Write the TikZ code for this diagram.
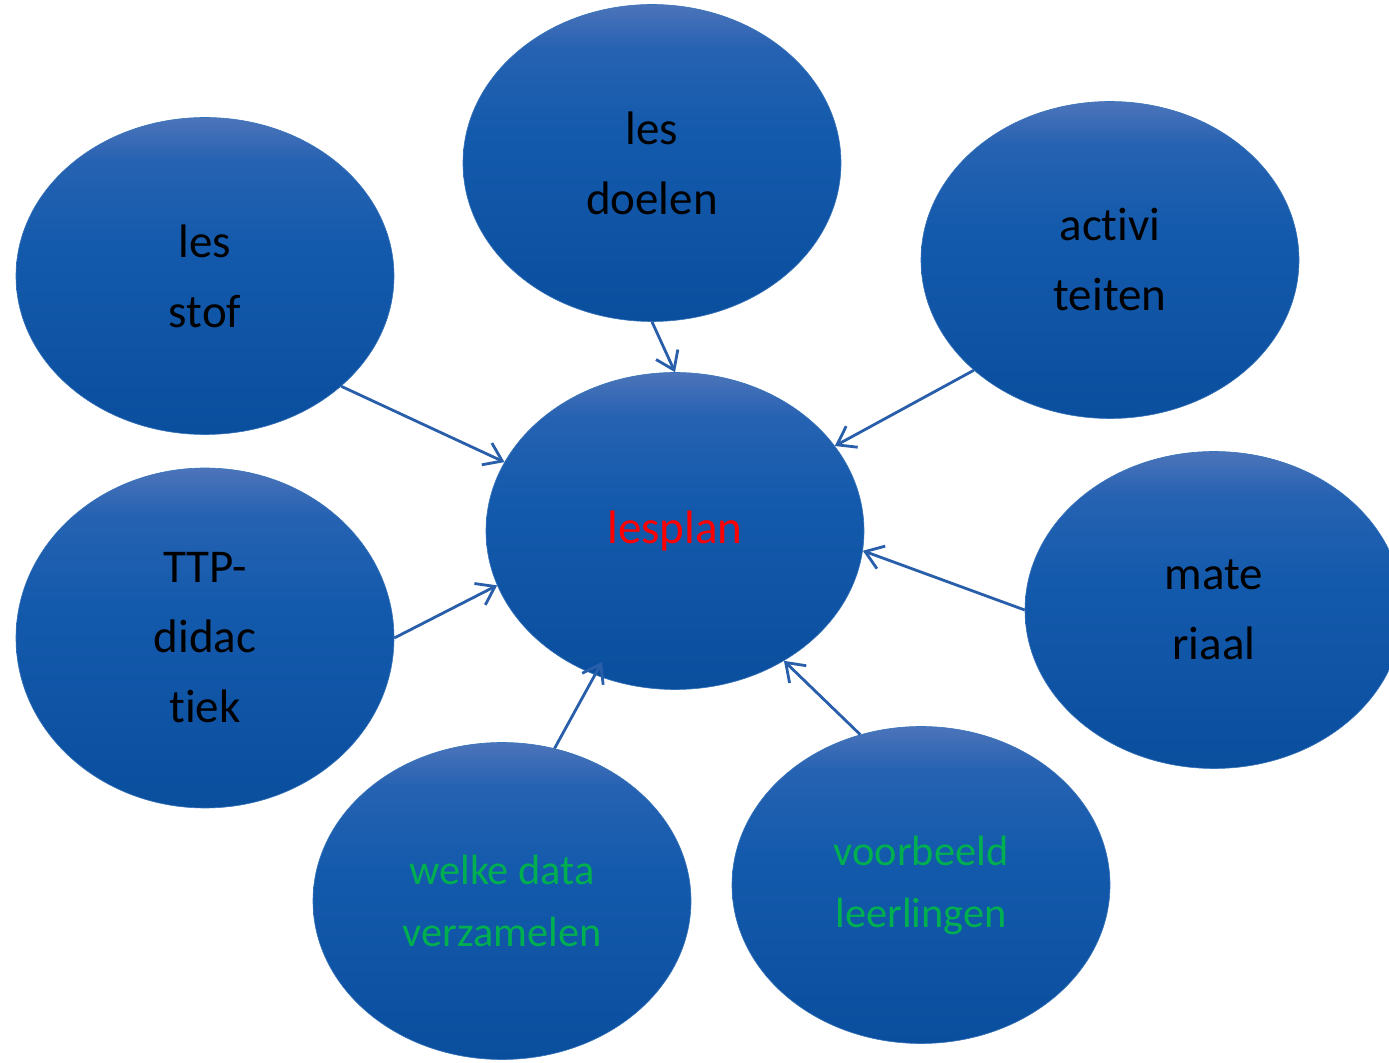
\documentclass[tikz,border=0pt]{standalone}
\usepackage{fontspec}
\setmainfont[Ligatures=NoCommon]{Carlito}
\usetikzlibrary{shapes.geometric,arrows.meta}
\definecolor{topblue}{RGB}{76,116,186}
\definecolor{upblue}{RGB}{38,98,178}
\definecolor{midblue}{RGB}{20,90,172}
\definecolor{lowblue}{RGB}{15,84,165}
\definecolor{botblue}{RGB}{10,78,158}
\definecolor{arrowblue}{RGB}{40,94,170}
\definecolor{officegreen}{RGB}{0,176,80}
\pgfdeclareverticalshading{bubbleshade}{100bp}{color(0bp)=(botblue); color(25bp)=(botblue); color(40bp)=(lowblue); color(55bp)=(midblue); color(68bp)=(upblue); color(75bp)=(topblue); color(100bp)=(topblue)}
\tikzset{
  bubble/.style={ellipse, inner sep=0pt, minimum width=189pt, minimum height=158.5pt,
    shading=bubbleshade, draw=midblue!85!white, line width=0.3pt, align=center},
  bigtext/.style={font=\fontsize{23.5}{35}\selectfont, text=black},
  greentext/.style={font=\fontsize{21.2}{31}\selectfont, text=officegreen},
  link/.style={draw=arrowblue, line width=1.4pt, -{Straight Barb[length=8.5pt,width=12pt,line width=1.4pt]}}
}
\begin{document}
\begin{tikzpicture}[x=0.5pt,y=-0.5pt]
\useasboundingbox (0,0) rectangle (1389,1063);
\clip (0,0) rectangle (1389,1063);
\node[bubble, bigtext] (doelen) at (652,163) {les\\doelen};
\node[bubble, bigtext] (stof) at (205,276) {les\\stof};
\node[bubble, bigtext] (activ) at (1110,260) {activi\\teiten};
\node[bubble, font=\fontsize{23.5}{35}\selectfont, text={rgb,255:red,255;green,0;blue,0}] (plan) at (675,531) {lesplan};
\node[bubble, bigtext, minimum height=170pt] (ttp) at (205,638) {TTP-\\didac\\tiek};
\node[bubble, bigtext] (mat) at (1214,610) {mate\\riaal};
\node[bubble, greentext] (data) at (502,901) {welke data\\verzamelen};
\node[bubble, greentext] (voorb) at (921,885) {voorbeeld\\leerlingen};
\draw[link] (doelen.south) -- (plan.north);
\draw[link] (stof.-39.7) -- (plan.158.1);
\draw[link] (activ.219.9) -- (plan.28.2);
\draw[link] (mat.west) -- (plan.-6.6);
\draw[link] (ttp.east) -- (plan.197.1);
\draw[link] (data.71) -- ([shift={(-73,131)}]plan.center);
\draw[link] (voorb.112.6) -- (plan.-50);
\end{tikzpicture}
\end{document}
